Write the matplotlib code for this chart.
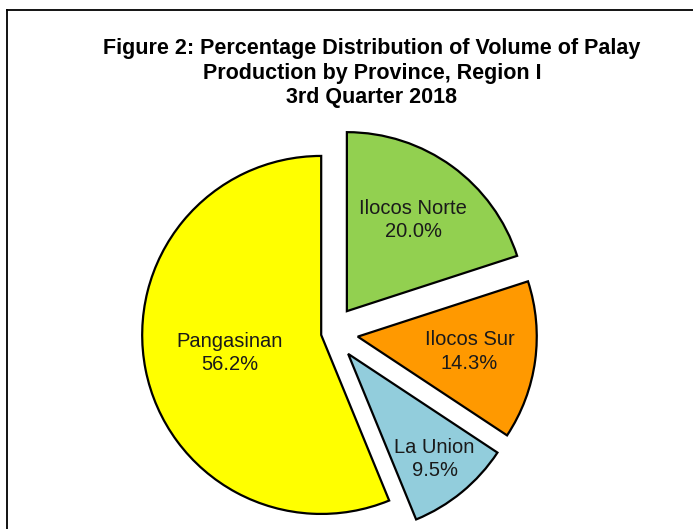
import matplotlib
matplotlib.use("Agg")
import matplotlib.pyplot as plt
import numpy as np

provinces = ["Ilocos Norte", "Ilocos Sur", "La Union", "Pangasinan"]
shares = [20.0, 14.3, 9.5, 56.2]
colors = ["#92D050", "#FF9900", "#92CDDC", "#FFFF00"]
explode = [27, 27, 27, 10]          # pixels, same units as the axes
label_dist = [0.63, 0.63, 0.76, 0.52]

title = ("Figure 2: Percentage Distribution of Volume of Palay\n"
         "Production by Province, Region I\n"
         "3rd Quarter 2018")

plt.rcParams["font.family"] = ["Liberation Sans", "DejaVu Sans"]

W, H = 693, 529
fig = plt.figure(figsize=(W / 100, H / 100), dpi=100)
ax = fig.add_axes([0, 0, 1, 1])

radius = 179
center = (331, H - 333)

wedges, _ = ax.pie(shares, colors=colors, explode=explode, radius=radius,
                   center=center, startangle=90, counterclock=False,
                   wedgeprops=dict(edgecolor="black", linewidth=1.6))

# pie() resets the limits, so set them afterwards (1 unit = 1 pixel)
ax.set_xlim(0, W)
ax.set_ylim(0, H)
ax.set_aspect("equal")
ax.axis("off")

# labels inside each slice
for w, name, val, d in zip(wedges, provinces, shares, label_dist):
    ang = np.deg2rad((w.theta1 + w.theta2) / 2)
    cx, cy = w.center
    x = cx + d * radius * np.cos(ang)
    y = cy + d * radius * np.sin(ang)
    ax.text(x, y, f"{name}\n{val:.1f}%", ha="center", va="center",
            fontsize=14.5, color="#1a1a1a", linespacing=1.32)

ax.text(372, H - 73, title, ha="center", va="center", fontsize=15.5,
        fontweight="bold", linespacing=1.2)

# frame: only top and left edges fall inside the picture
ax.plot([7, W], [H - 10, H - 10], color="black", lw=1.3, clip_on=False)
ax.plot([7, 7], [0, H - 10], color="black", lw=1.3, clip_on=False)

fig.savefig("out.png", dpi=100, facecolor="white")
